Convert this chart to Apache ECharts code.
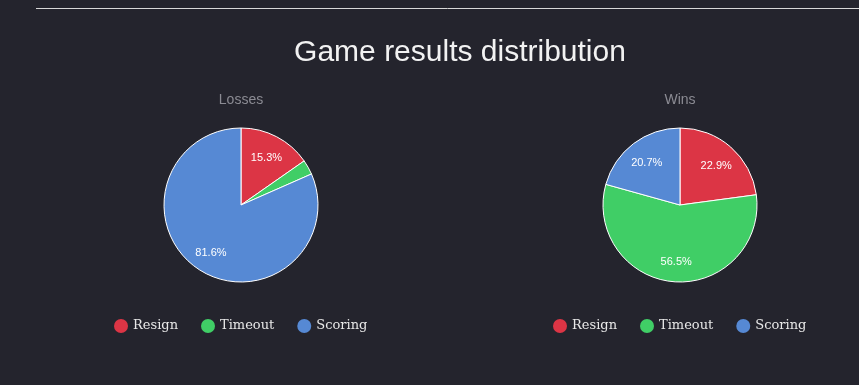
<!DOCTYPE html>
<html><head><meta charset="utf-8">
<script src="https://cdn.jsdelivr.net/npm/echarts@6/dist/echarts.min.js"></script>
<style>html,body{margin:0;padding:0;background:#24242d;}#c{width:859px;height:385px;}</style>
</head><body><div id="c"></div>
<script>
const categories = ['Resign', 'Timeout', 'Scoring'];
const lossesValues = [15.3, 3.1, 81.6];
const winsValues = [22.9, 56.5, 20.7];
const colors = ['#dc3545', '#40ce66', '#5689d4'];

const mk = (vals) => categories.map((n, i) => ({ name: n, value: vals[i] }));
const labelFmt = p => p.percent < 5 ? '' : p.value.toFixed(1) + '%';

function pieSeries(vals, cx) {
  return [
    {
      type: 'pie', center: [cx, 205], radius: 77, startAngle: 90, clockwise: true,
      data: mk(vals), label: { show: false }, labelLine: { show: false },
      itemStyle: { borderColor: '#ffffff', borderWidth: 1 },
      emphasis: { disabled: true }, silent: true
    },
    {
      type: 'pie', center: [cx, 205], radius: [27, 77], startAngle: 90, clockwise: true,
      data: mk(vals), labelLine: { show: false },
      itemStyle: { color: 'rgba(0,0,0,0)', borderWidth: 0 },
      label: { show: true, position: 'inside', formatter: labelFmt, color: '#ffffff',
               fontSize: 11, fontFamily: 'Liberation Sans', offset: [0, 2] },
      emphasis: { disabled: true }, silent: true
    }
  ];
}

const legendBase = {
  data: categories, top: 319, icon: 'circle', itemWidth: 14, itemHeight: 14, itemGap: 23,
  padding: 0, itemStyle: { borderWidth: 0 }, selectedMode: false,
  textStyle: { color: '#e8e8e8', fontSize: 13, fontFamily: 'DejaVu Serif' }
};

const chart = echarts.init(document.getElementById('c'));
chart.setOption({
  backgroundColor: '#24242d',
  color: colors,
  animation: false,
  title: [
    { text: 'Game results distribution', left: 460, top: 38, textAlign: 'center', padding: 0,
      textStyle: { color: '#f2f2f2', fontSize: 30, fontWeight: 'normal', fontFamily: 'Liberation Sans' } },
    { text: 'Losses', left: 241, top: 93, textAlign: 'center', padding: 0,
      textStyle: { color: '#8b8b93', fontSize: 14, fontWeight: 'normal', fontFamily: 'Liberation Sans' } },
    { text: 'Wins', left: 680, top: 93, textAlign: 'center', padding: 0,
      textStyle: { color: '#8b8b93', fontSize: 14, fontWeight: 'normal', fontFamily: 'Liberation Sans' } }
  ],
  legend: [
    Object.assign({}, legendBase, { left: 114 }),
    Object.assign({}, legendBase, { left: 553 })
  ],
  graphic: [
    { type: 'line', shape: { x1: 36, y1: 8.5, x2: 859, y2: 8.5 }, style: { stroke: '#d8d8d8', lineWidth: 1 } }
  ],
  series: [...pieSeries(lossesValues, 241), ...pieSeries(winsValues, 680)]
});
</script></body></html>
